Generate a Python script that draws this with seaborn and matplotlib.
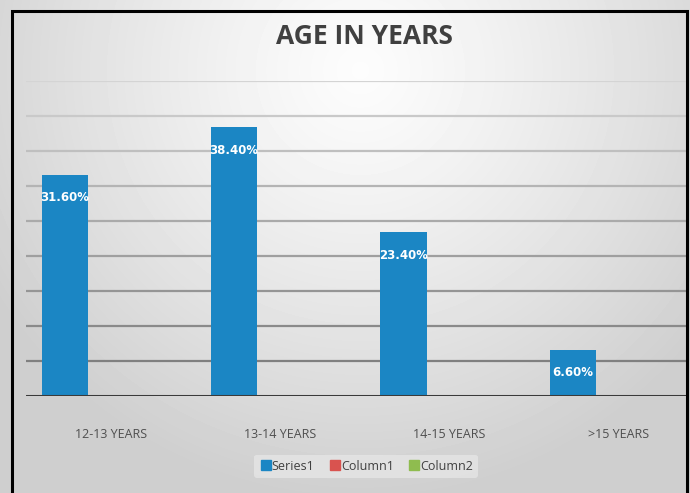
import numpy as np
import pandas as pd
import matplotlib
matplotlib.use("Agg")
import matplotlib.pyplot as plt
import seaborn as sns
from matplotlib.patches import Rectangle
from matplotlib.lines import Line2D

# ---- data ----
categories = ["12-13 YEARS", "13-14 YEARS", "14-15 YEARS", ">15 YEARS"]
series_names = ["Series1", "Column1", "Column2"]
series1 = [31.6, 38.4, 23.4, 6.6]
column1 = [0.0, 0.0, 0.0, 0.0]
column2 = [0.0, 0.0, 0.0, 0.0]
value_labels = ["31.60%", "38.40%", "23.40%", "6.60%"]
title = "AGE IN YEARS"

df = pd.DataFrame({
    "category": categories * 3,
    "series": np.repeat(series_names, len(categories)),
    "value": series1 + column1 + column2,
})

colors = {"Series1": "#1b86c4", "Column1": "#d9534f", "Column2": "#8fbc4f"}

sns.set_theme(style="white")
plt.rcParams["font.family"] = ["Open Sans", "DejaVu Sans"]

W, H = 690, 493
fig = plt.figure(figsize=(W / 100, H / 100), dpi=100)

# background radial gradient
bg = fig.add_axes([0, 0, 1, 1], zorder=-10)
yy, xx = np.mgrid[0:H, 0:W]
cx, cy = 360, 70
d = np.sqrt(((xx - cx) / 430.0) ** 2 + ((yy - cy) / 430.0) ** 2)
d = np.clip(d, 0, 1)
lo, hi = 0.81, 0.99
img = hi - (hi - lo) * d ** 1.2
bg.imshow(img, cmap="gray", vmin=0, vmax=1, aspect="auto",
          extent=[0, W, H, 0], interpolation="bilinear")
bg.set_xlim(0, W)
bg.set_ylim(H, 0)
bg.axis("off")

# main axes
left, right = 26, 686
top, base = 81, 396
ax = fig.add_axes([left / W, 1 - base / H, (right - left) / W, (base - top) / H])
ax.patch.set_alpha(0)

sns.barplot(data=df, x="category", y="value", hue="series",
            hue_order=series_names, order=categories, palette=colors,
            width=0.815, ax=ax, legend=False, zorder=3, saturation=1,
            edgecolor="none", linewidth=0)

ax.set_ylim(0, 45)
ax.set_xlim(-0.5, 3.396)

# gridlines with light-to-dark shading
for g in range(5, 50, 5):
    t = (g - 5) / 40.0
    c = (0.50 + 0.33 * t,) * 3
    ax.axhline(g, color=c, lw=1.6, zorder=1)
ax.axhline(0, color="#3a3a3a", lw=2.2, zorder=4)

for s in ax.spines.values():
    s.set_visible(False)
ax.set_yticks([])
ax.set_xlabel("")
ax.set_ylabel("")
ax.tick_params(axis="x", length=0, pad=23, labelsize=9, colors="#4f4f4f")

# data labels (white, inside top of Series1 bars)
bars = ax.containers[0]
for rect, txt in zip(bars, value_labels):
    xc = rect.get_x() + rect.get_width() / 2
    ytop = rect.get_height()
    ax.annotate(txt, (xc, ytop), xytext=(0, -16.5), textcoords="offset points",
                ha="center", va="center", color="white", fontsize=8.5,
                fontweight="bold", zorder=5, family=["DejaVu Sans"])

# title
fig.text(364 / W, 1 - 37 / H, title, ha="center", va="center",
         fontsize=19, fontweight="bold", color="#404040")

# legend
handles = [Line2D([0], [0], marker="s", linestyle="none", markersize=7,
                  markerfacecolor=colors[n], markeredgecolor=colors[n])
           for n in series_names]
leg = fig.legend(handles, series_names, loc="center", ncol=3,
                 bbox_to_anchor=(366 / W, 1 - 466 / H), frameon=True,
                 fontsize=9, handletextpad=0.0, columnspacing=1.1,
                 borderpad=0.4, handlelength=1.0)
leg.get_frame().set_facecolor("#e8e8e8")
leg.get_frame().set_edgecolor("none")
leg.get_frame().set_alpha(0.7)
for t in leg.get_texts():
    t.set_color("#404040")

# outer black border (open at bottom, cropped)
fig.add_artist(Rectangle((12 / W, -0.05), (687 - 12) / W, (1 - 11 / H) + 0.05,
                         transform=fig.transFigure, fill=False,
                         edgecolor="black", lw=2.2, zorder=20))

fig.savefig("out.png", dpi=100)
